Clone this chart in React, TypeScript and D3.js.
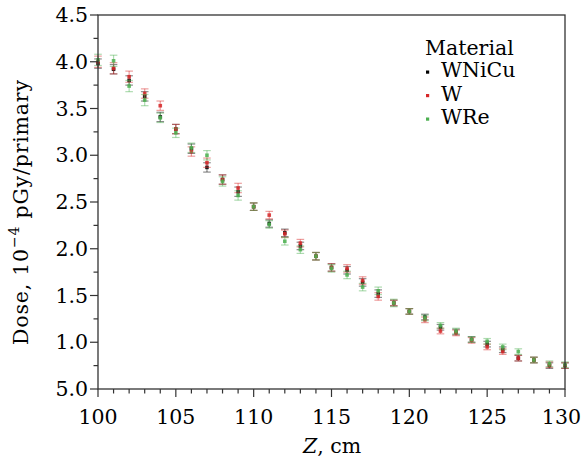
import React from "react";
import * as d3 from "d3";

const zValues = [100,101,102,103,104,105,106,107,108,109,110,111,112,113,114,115,116,117,118,119,120,121,122,123,124,125,126,127,128,129,130];
const doseWNiCu = [3.98,3.92,3.80,3.63,3.41,3.28,3.07,2.87,2.74,2.61,2.45,2.27,2.17,2.03,1.92,1.80,1.77,1.64,1.52,1.42,1.33,1.27,1.16,1.11,1.03,0.98,0.92,0.83,0.81,0.75,0.75];
const doseW = [4.00,3.93,3.84,3.66,3.53,3.28,3.04,2.92,2.74,2.65,2.45,2.36,2.16,2.06,1.92,1.80,1.79,1.66,1.49,1.42,1.33,1.24,1.12,1.10,1.02,0.95,0.90,0.83,0.81,0.76,0.75];
const doseWRe = [4.02,4.01,3.74,3.59,3.40,3.24,3.08,3.00,2.72,2.57,2.45,2.26,2.08,1.99,1.92,1.79,1.72,1.59,1.55,1.42,1.33,1.26,1.18,1.12,1.03,1.01,0.95,0.90,0.81,0.77,0.76];
const errWNiCu = [0.05,0.05,0.05,0.05,0.05,0.05,0.05,0.05,0.05,0.05,0.04,0.04,0.04,0.04,0.04,0.04,0.04,0.04,0.04,0.03,0.03,0.03,0.03,0.03,0.03,0.03,0.03,0.03,0.03,0.03,0.03];
const errW = [0.06,0.06,0.06,0.05,0.05,0.05,0.05,0.05,0.05,0.05,0.04,0.04,0.04,0.04,0.04,0.04,0.04,0.04,0.04,0.03,0.03,0.03,0.03,0.03,0.03,0.03,0.03,0.03,0.03,0.03,0.03];
const errWRe = [0.06,0.06,0.06,0.06,0.05,0.05,0.05,0.05,0.05,0.05,0.04,0.04,0.04,0.04,0.04,0.04,0.04,0.04,0.04,0.04,0.03,0.03,0.03,0.03,0.03,0.03,0.03,0.03,0.03,0.03,0.03];
const seriesNames = ["WNiCu", "W", "WRe"];
const seriesColors = ["#000000", "#d62728", "#4cb050"];
const xTicks = [100,105,110,115,120,125,130];
const yTicks = [0.5,1.0,1.5,2.0,2.5,3.0,3.5,4.0,4.5];
const yTickLabels = ["5.0","1.0","1.5","2.0","2.5","3.0","3.5","4.0","4.5"];

const W = 582, H = 463;
const L = 98, R = 565, T = 15, B = 389;
const FONT = "DejaVu Serif";

export default function App() {
  const x = d3.scaleLinear().domain([100, 130]).range([L, R]);
  const y = d3.scaleLinear().domain([0.5, 4.5]).range([B, T]);
  const series = [doseWNiCu, doseW, doseWRe];
  const errs = [errWNiCu, errW, errWRe];
  const xMinor = d3.range(100, 131, 1);
  const yMinor = d3.range(0.5, 4.51, 0.25);
  const fs = 20.5;
  return (
    <svg width={W} height={H} style={{ position: "absolute", left: 0, top: 0 }} fontFamily={FONT}>
      <rect x={0} y={0} width={W} height={H} fill="#fff" />
      {series.map((vals, si) => (
        <g key={si}>
          {vals.map((v, i) => {
            const cx = x(zValues[i]);
            const e = errs[si][i];
            const y1 = y(v + e), y2 = y(v - e);
            const c = seriesColors[si];
            return (
              <g key={i}>
                <line x1={cx} x2={cx} y1={y1} y2={y2} stroke={c} strokeOpacity={0.45} strokeWidth={1.2} />
                <line x1={cx - 3.8} x2={cx + 3.8} y1={y1} y2={y1} stroke={c} strokeOpacity={0.45} strokeWidth={1.2} />
                <line x1={cx - 3.8} x2={cx + 3.8} y1={y2} y2={y2} stroke={c} strokeOpacity={0.45} strokeWidth={1.2} />
                <rect x={cx - 1.8} y={y(v) - 1.8} width={3.6} height={3.6} fill={c} fillOpacity={0.85} />
              </g>
            );
          })}
        </g>
      ))}
      <rect x={L} y={T} width={R - L} height={B - T} fill="none" stroke="#333" strokeWidth={1.3} />
      {xMinor.map((t) => (
        <line key={"xm" + t} x1={x(t)} x2={x(t)} y1={B} y2={B + (t % 5 === 0 ? 8 : 4.5)} stroke="#333" strokeWidth={1.2} />
      ))}
      {yMinor.map((t, i) => (
        <line key={"ym" + i} x1={L} x2={L - (i % 2 === 0 ? 8 : 4.5)} y1={y(t)} y2={y(t)} stroke="#333" strokeWidth={1.2} />
      ))}
      {xTicks.map((t, i) => {
        const last = i === xTicks.length - 1;
        return (
          <text key={"xl" + t} x={last ? W - 1 : x(t)} y={424} textAnchor={last ? "end" : "middle"} fontSize={fs}>{t}</text>
        );
      })}
      {yTicks.map((t, i) => (
        <text key={"yl" + t} x={88} y={y(t) + 7} textAnchor="end" fontSize={fs}>{yTickLabels[i]}</text>
      ))}
      <text x={332} y={453} textAnchor="middle" fontSize={fs}>
        <tspan fontStyle="italic">Z</tspan>, cm
      </text>
      <text transform={`translate(28, 345) rotate(-90)`} textAnchor="start" fontSize={fs} letterSpacing={0.8}>
        Dose, 10<tspan fontSize={14} dy={-9}>−4</tspan><tspan dy={9}> pGy/primary</tspan>
      </text>
      <g>
        <text x={425} y={55} fontSize={fs}>Material</text>
        {seriesNames.map((n, i) => (
          <g key={n}>
            <rect x={426} y={70.5 + i * 23.5} width={3.2} height={3.2} fill={seriesColors[i]} />
            <text x={441} y={77 + i * 23.5} fontSize={fs}>{n}</text>
          </g>
        ))}
      </g>
    </svg>
  );
}
